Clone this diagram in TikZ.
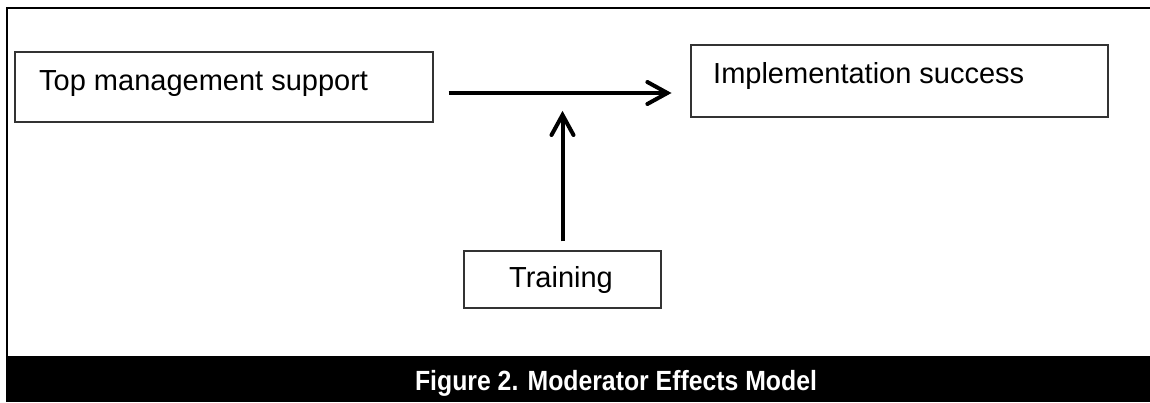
\documentclass[tikz,border=0pt]{standalone}
\usepackage{fontspec}
\setmainfont{Liberation Sans}
\usetikzlibrary{calc}
\tikzset{
  box/.style={draw=black!80, line width=1.3pt, rectangle, inner sep=0pt},
  lbl/.style={inner sep=0pt, font=\fontsize{29}{34}\selectfont},
  shaft/.style={line width=4pt},
  barb/.style={line width=4pt, line join=miter, line cap=round},
}
\begin{document}
\begin{tikzpicture}[x=1pt,y=-1pt]
\useasboundingbox (0,0) rectangle (1150,402);
% frame
\draw[line width=2.3pt] (7,356) -- (7,8) -- (1150,8);
\fill[black] (6,356) rectangle (1150,402);
\node[anchor=base, inner sep=0pt, text=white] (title) at (616,390)
  {\scalebox{1}[1.12]{\fontsize{24.8}{30}\selectfont\bfseries Figure 2. Moderator Effects Model}};
% boxes
\node[box, minimum width=418pt, minimum height=70pt] (tms) at (224,87) {};
\node[box, minimum width=417pt, minimum height=72pt] (impl) at (899.5,81) {};
\node[box, minimum width=197pt, minimum height=57pt] (train) at (562.5,279.5) {};
\node[lbl, anchor=base west] (tmsl) at (39,90) {Top management support};
\node[lbl, anchor=base west] (impll) at (713,83) {Implementation success};
\node[lbl, anchor=base] (trainl) at (561,287) {Training};
% connectors
\coordinate (hs) at ($(tms.east)+(15,6)$);
\coordinate (he) at ($(impl.west)+(-23,12)$);
\draw[shaft] (hs) -- (he);
\draw[barb] ($(he)+(-20,-11)$) -- (he) -- ($(he)+(-20,11)$);
\coordinate (vs) at ($(train.north)+(0,-9)$);
\coordinate (ve) at (562.5,115);
\draw[shaft] (vs) -- (ve);
\draw[barb] ($(ve)+(-11,20)$) -- (ve) -- ($(ve)+(11,20)$);
\end{tikzpicture}
\end{document}
